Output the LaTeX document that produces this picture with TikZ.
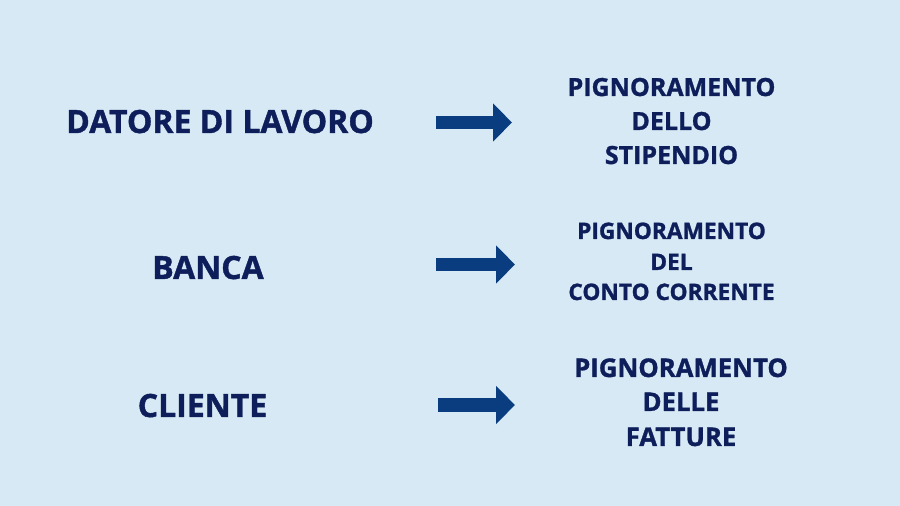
\documentclass[tikz,border=0pt]{standalone}
\usepackage{fontspec}
\setmainfont{Open Sans}[BoldFeatures={FakeBold=1.2}]
\usetikzlibrary{arrows.meta}
\definecolor{bgc}{HTML}{D6E9F4}
\definecolor{txc}{HTML}{0E1E5B}
\definecolor{arc}{HTML}{0A3D80}
\tikzset{
  lbl/.style={text=txc, font=\bfseries\fontsize{32}{36}\selectfont, anchor=base, inner sep=0pt},
  ra/.style={text=txc, font=\bfseries\fontsize{25}{30}\selectfont, anchor=base, inner sep=0pt},
  rb/.style={text=txc, font=\bfseries\fontsize{22.7}{27}\selectfont, anchor=base, inner sep=0pt},
  rc/.style={text=txc, font=\bfseries\fontsize{25.7}{30}\selectfont, anchor=base, inner sep=0pt},
  bigarrow/.style={draw=arc, line width=13.5pt, -{Triangle[length=19pt,width=37pt]}}
}
\begin{document}
\begin{tikzpicture}[x=1pt,y=1pt]
\fill[bgc] (0,0) rectangle (900,506);
\useasboundingbox (0,0) rectangle (900,506);
% left labels
\node[lbl] (l1) at (220,373) {DATORE DI LAVORO};
\node[lbl] (l2) at (208,227) {BANCA};
\node[lbl] (l3) at (202.5,89) {CLIENTE};
% right group 1
\node[ra] (r1a) at (671.5,410) {PIGNORAMENTO};
\node[ra] (r1b) at (671.5,376) {DELLO};
\node[ra] (r1c) at (671.5,342) {STIPENDIO};
% right group 2
\node[rb] (r2a) at (671.5,267) {PIGNORAMENTO};
\node[rb] (r2b) at (671.5,236) {DEL};
\node[rb] (r2c) at (671.5,206) {CONTO CORRENTE};
% right group 3
\node[rc] (r3a) at (681,129) {PIGNORAMENTO};
\node[rc] (r3b) at (681,95) {DELLE};
\node[rc] (r3c) at (681,60) {FATTURE};
% arrows
\coordinate (a1s) at (436,383.5);
\coordinate (a1e) at (512,383.5);
\coordinate (a2s) at (436,241.5);
\coordinate (a2e) at (515,241.5);
\coordinate (a3s) at (438,101);
\coordinate (a3e) at (515,101);
\draw[bigarrow] (a1s) -- (a1e);
\draw[bigarrow] (a2s) -- (a2e);
\draw[bigarrow] (a3s) -- (a3e);
\end{tikzpicture}
\end{document}
